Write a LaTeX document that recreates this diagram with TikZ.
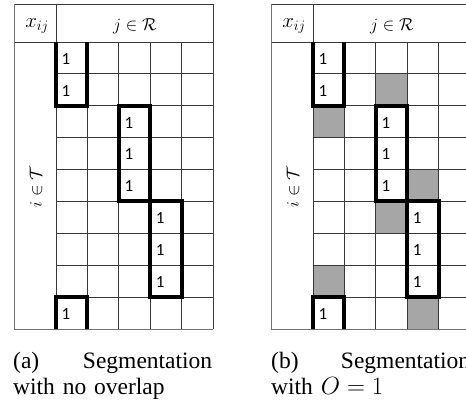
\documentclass[tikz,border=0pt]{standalone}
\usepackage{fontspec}
\setmainfont{Liberation Serif}
\newfontfamily\cellfont{Carlito}
\newcommand\mytable[2]{%
  \begin{scope}[xshift=#1]
  % grid
  \foreach \c in {1,...,4} \draw[gridline] ({56+\c*31.4},42) -- ({56+\c*31.4},329);
  \foreach \r in {1,...,8} \draw[gridline] (56,{42+\r*31.89}) -- (213,{42+\r*31.89});
  \draw[gridline] (56,4) -- (56,329);
  \draw[gridline] (14,42) -- (213,42);
  \draw[gridline] (14,4) -- (213,4) -- (213,329);
  \draw[outline] (14,4) -- (14,329) -- (213,329);
  % headers
  \node[hdr, font=\fontsize{20}{24}\selectfont] (x#2) at (37,25.5) {$x_{ij}$};
  \node[hdr] (j#2) at (135,26) {$j\in\mathcal{R}$};
  \node[hdr, rotate=90] (i#2) at (36,187) {$i\in\mathcal{T}$};
  % ones
  \foreach \r/\c [count=\k] in {0/0,1/0,2/2,3/2,4/2,5/3,6/3,7/3,8/0}
    \node[onetext] (o#2\k) at ({56+\c*31.4+5.5},{42+\r*31.89+16.8}) {1};
  % segments
  \draw[seg] (56,42) -- (56,105.78) -- (87.4,105.78) -- (87.4,42);
  \draw[seg] (118.8,105.78) rectangle (150.2,201.45);
  \draw[seg] (150.2,201.45) rectangle (181.6,297.12);
  \draw[seg] (56,329) -- (56,297.12) -- (87.4,297.12) -- (87.4,329);
  \end{scope}}
\begin{document}
\begin{tikzpicture}[x=1pt,y=-1pt,
  gridline/.style={draw=black!78, line width=0.9pt},
  outline/.style={draw=black!55, line width=1pt},
  seg/.style={draw=black, line width=4pt, line cap=butt, line join=miter},
  onetext/.style={font=\cellfont\fontsize{17}{19}\selectfont, anchor=west, inner sep=0pt},
  hdr/.style={font=\fontsize{18}{22}\selectfont, inner sep=0pt},
  captext/.style={font=\fontsize{23.5}{26}\selectfont, anchor=base west, inner sep=0pt, text width=199pt, align=left},
  shade/.style={fill=black!35}
]
\useasboundingbox (0,0) rectangle (466,405);
\clip (0,0) rectangle (466,405);
% shaded cells of (b)
\begin{scope}[xshift=257]
  \foreach \r/\c in {1/2,2/0,4/3,5/2,7/0,8/3}
    \fill[shade] ({56+\c*31.4},{42+\r*31.89}) rectangle ({56+(\c+1)*31.4},{42+(\r+1)*31.89});
\end{scope}
\mytable{0}{a}
\mytable{257}{b}
\node[captext] (capa) at (13,368) {(a)\hfill Segmentation\\with no overlap};
\node[captext] (capb) at (271,368) {(b)\hfill Segmentation\\with $O=1$};
\end{tikzpicture}
\end{document}
